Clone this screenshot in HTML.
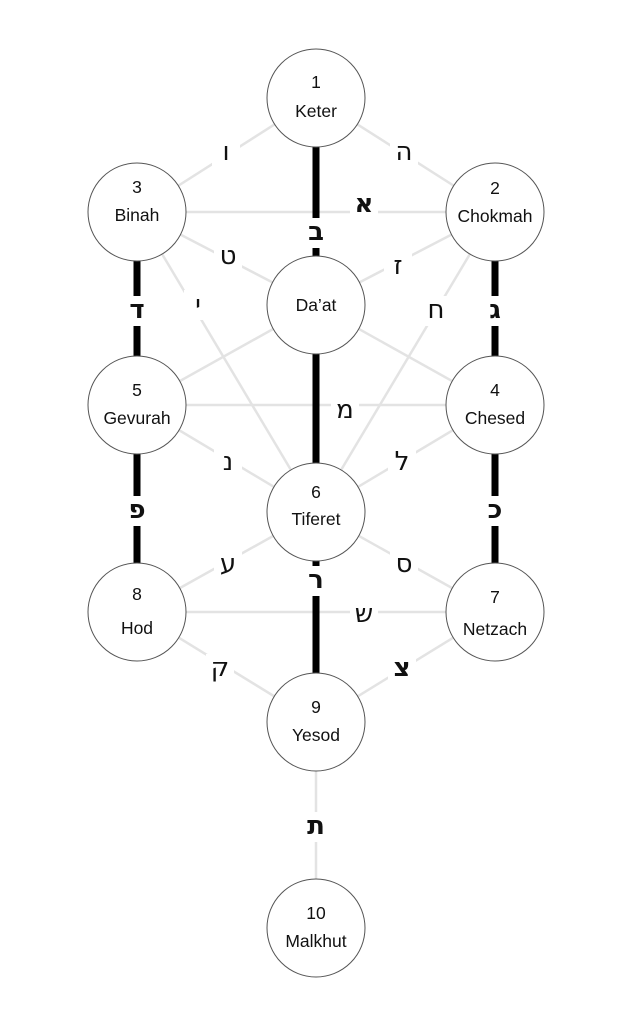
<!DOCTYPE html>
<html><head><meta charset="utf-8"><style>
html,body{margin:0;padding:0;background:#fff;}
svg{display:block}
.n{fill:#fff;stroke:#555;stroke-width:1}
.t{font-family:"Liberation Sans","DejaVu Sans",sans-serif;font-size:17.5px;fill:#111;text-anchor:middle}
.h{font-family:"DejaVu Sans","Liberation Sans",sans-serif;font-size:26px;fill:#111;text-anchor:middle;dominant-baseline:central}
.g{stroke:#e3e3e3;stroke-width:2.5}
.k{stroke:#000;stroke-width:7}
</style></head><body>
<svg width="633" height="1024" viewBox="0 0 633 1024">
<g class="g">
<line x1="316" y1="98" x2="137" y2="212"/><line x1="316" y1="98" x2="495" y2="212"/>
<line x1="137" y1="212" x2="495" y2="212"/>
<line x1="137" y1="212" x2="316" y2="305"/><line x1="495" y1="212" x2="316" y2="305"/>
<line x1="137" y1="212" x2="316" y2="512"/><line x1="495" y1="212" x2="316" y2="512"/>
<line x1="137" y1="405" x2="316" y2="305"/><line x1="495" y1="405" x2="316" y2="305"/>
<line x1="137" y1="405" x2="495" y2="405"/>
<line x1="137" y1="405" x2="316" y2="512"/><line x1="495" y1="405" x2="316" y2="512"/>
<line x1="137" y1="612" x2="316" y2="512"/><line x1="495" y1="612" x2="316" y2="512"/>
<line x1="137" y1="612" x2="495" y2="612"/>
<line x1="137" y1="612" x2="316" y2="722"/><line x1="495" y1="612" x2="316" y2="722"/>
<line x1="316" y1="722" x2="316" y2="928"/>
</g>
<g class="k">
<line x1="316" y1="98" x2="316" y2="305"/><line x1="316" y1="305" x2="316" y2="512"/><line x1="316" y1="512" x2="316" y2="722"/>
<line x1="137" y1="212" x2="137" y2="405"/><line x1="137" y1="405" x2="137" y2="612"/>
<line x1="495" y1="212" x2="495" y2="405"/><line x1="495" y1="405" x2="495" y2="612"/>
</g>
<g fill="#fff">
<rect x="212" y="138" width="28" height="30"/><rect x="390" y="138" width="28" height="30"/>
<rect x="350" y="190" width="28" height="30"/><rect x="214" y="242" width="28" height="30"/>
<rect x="384" y="252" width="28" height="30"/><rect x="184" y="290" width="28" height="30"/>
<rect x="422" y="296" width="28" height="30"/><rect x="331" y="396" width="28" height="30"/>
<rect x="214" y="448" width="28" height="30"/><rect x="388" y="448" width="28" height="30"/>
<rect x="214" y="550" width="28" height="30"/><rect x="390" y="550" width="28" height="30"/>
<rect x="350" y="600" width="28" height="30"/><rect x="206" y="654" width="28" height="30"/>
<rect x="388" y="654" width="28" height="30"/><rect x="302" y="812" width="28" height="30"/>
<rect x="302" y="218" width="28" height="30"/><rect x="302" y="566" width="28" height="30"/>
<rect x="123" y="296" width="28" height="30"/><rect x="123" y="496" width="28" height="30"/>
<rect x="481" y="296" width="28" height="30"/><rect x="481" y="496" width="28" height="30"/>
</g>
<g class="h">
<text x="226" y="152">ו</text><text x="404" y="152">ה</text><text x="364" y="204" font-weight="bold">א</text>
<text x="228" y="256">ט</text><text x="398" y="266">ז</text><text x="198" y="305">י</text>
<text x="436" y="310">ח</text><text x="345" y="410">מ</text><text x="228" y="462">נ</text>
<text x="402" y="462">ל</text><text x="228" y="564">ע</text><text x="404" y="564">ס</text>
<text x="364" y="614">ש</text><text x="220" y="668">ק</text><text x="402" y="668" font-weight="bold">צ</text>
<text x="316" y="826" font-weight="bold">ת</text>
<text x="316" y="232" font-weight="bold">ב</text><text x="316" y="580" font-weight="bold">ר</text>
<text x="137" y="310" font-weight="bold">ד</text><text x="137" y="510" font-weight="bold">פ</text>
<text x="495" y="310" font-weight="bold">ג</text><text x="495" y="510" font-weight="bold">כ</text>
</g>
<g>
<circle class="n" cx="316" cy="98" r="49"/><circle class="n" cx="495" cy="212" r="49"/><circle class="n" cx="137" cy="212" r="49"/>
<circle class="n" cx="316" cy="305" r="49"/><circle class="n" cx="495" cy="405" r="49"/><circle class="n" cx="137" cy="405" r="49"/>
<circle class="n" cx="316" cy="512" r="49"/><circle class="n" cx="495" cy="612" r="49"/><circle class="n" cx="137" cy="612" r="49"/>
<circle class="n" cx="316" cy="722" r="49"/><circle class="n" cx="316" cy="928" r="49"/>
</g>
<g class="t">
<text x="316" y="88">1</text><text x="316" y="117">Keter</text>
<text x="495" y="194">2</text><text x="495" y="222">Chokmah</text>
<text x="137" y="193">3</text><text x="137" y="221">Binah</text>
<text x="316" y="311">Da’at</text>
<text x="495" y="396">4</text><text x="495" y="424">Chesed</text>
<text x="137" y="396">5</text><text x="137" y="424">Gevurah</text>
<text x="316" y="498">6</text><text x="316" y="525">Tiferet</text>
<text x="495" y="603">7</text><text x="495" y="635">Netzach</text>
<text x="137" y="600">8</text><text x="137" y="634">Hod</text>
<text x="316" y="713">9</text><text x="316" y="741">Yesod</text>
<text x="316" y="919">10</text><text x="316" y="947">Malkhut</text>
</g>
</svg>
</body></html>
